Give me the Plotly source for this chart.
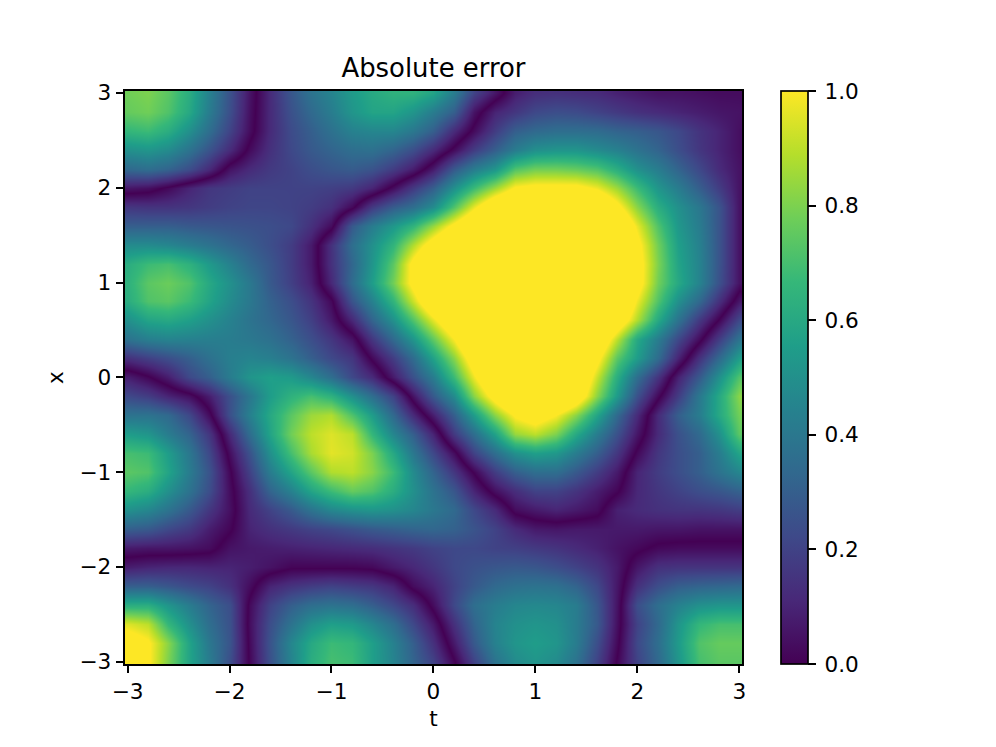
import plotly.graph_objects as go
from plotly.colors import sequential

t_values = [-3.0, -2.8, -2.6, -2.4, -2.2, -2.0, -1.8, -1.6, -1.4, -1.2, -1.0, -0.8, -0.6, -0.4, -0.2, 0.0,
            0.2, 0.4, 0.6, 0.8, 1.0, 1.2, 1.4, 1.6, 1.8, 2.0, 2.2, 2.4, 2.6, 2.8, 3.0]
x_values = [3.0, 2.8, 2.6, 2.4, 2.2, 2.0, 1.8, 1.6, 1.4, 1.2, 1.0, 0.8, 0.6, 0.4, 0.2, 0.0,
            -0.2, -0.4, -0.6, -0.8, -1.0, -1.2, -1.4, -1.6, -1.8, -2.0, -2.2, -2.4, -2.6, -2.8, -3.0]

# Error, signed by the side of each dark zero-valley it lies on;
# the colour shows its magnitude. Values over 1 sit in the saturated yellow area.
signed_error = [
    [-.78,-.80,-.74,-.62,-.44,-.25,-.05,.12,.27,.38,.45,.54,.60,.64,.64,.58,.42,.20,.06,-.08,-.13,-.14,-.13,-.12,-.09,-.07,-.05,-.05,-.04,-.03,-.03],
    [-.76,-.78,-.72,-.60,-.42,-.24,-.04,.12,.25,.34,.42,.52,.58,.58,.52,.42,.30,.05,-.10,-.16,-.22,-.24,-.23,-.20,-.17,-.14,-.12,-.10,-.08,-.06,-.05],
    [-.66,-.68,-.62,-.50,-.36,-.20,-.03,.12,.23,.30,.37,.44,.46,.46,.40,.30,.12,-.03,-.18,-.30,-.34,-.36,-.36,-.35,-.32,-.30,-.27,-.22,-.15,-.10,-.04],
    [-.50,-.52,-.48,-.38,-.26,-.12,.03,.14,.22,.28,.32,.36,.37,.32,.24,.12,-.03,-.18,-.30,-.42,-.50,-.52,-.52,-.48,-.44,-.38,-.32,-.24,-.16,-.10,-.04],
    [-.34,-.36,-.32,-.24,-.12,.05,.12,.17,.20,.24,.27,.29,.26,.18,.08,-.07,-.28,-.42,-.52,-.72,-.78,-.78,-.76,-.72,-.62,-.50,-.42,-.32,-.22,-.12,-.05],
    [-.06,-.04,.02,.10,.16,.18,.20,.20,.20,.20,.19,.17,.10,-.03,-.17,-.30,-.50,-.68,-.85,-1.02,-1.05,-1.05,-1.05,-.98,-.85,-.68,-.52,-.42,-.30,-.18,-.05],
    [.16,.15,.15,.16,.18,.20,.21,.21,.20,.18,.14,.02,-.17,-.29,-.36,-.48,-.72,-.97,-1.2,-1.3,-1.3,-1.3,-1.3,-1.25,-1.05,-.82,-.62,-.50,-.40,-.26,-.05],
    [.30,.30,.30,.28,.27,.26,.25,.24,.22,.14,.03,-.28,-.42,-.53,-.65,-.84,-1.05,-1.25,-1.4,-1.4,-1.4,-1.4,-1.4,-1.4,-1.25,-.97,-.72,-.53,-.42,-.26,-.05],
    [.48,.48,.46,.42,.38,.33,.29,.24,.18,.07,-.14,-.36,-.50,-.65,-.88,-1.1,-1.3,-1.5,-1.5,-1.5,-1.5,-1.5,-1.5,-1.5,-1.3,-1.05,-.78,-.56,-.44,-.26,-.05],
    [.62,.68,.70,.64,.54,.44,.34,.27,.18,.07,-.14,-.33,-.52,-.74,-1.05,-1.3,-1.5,-1.6,-1.6,-1.6,-1.6,-1.6,-1.6,-1.6,-1.35,-1.08,-.80,-.58,-.45,-.26,-.05],
    [.64,.74,.77,.72,.60,.50,.40,.28,.19,.09,-.11,-.35,-.55,-.78,-1.05,-1.3,-1.5,-1.6,-1.6,-1.6,-1.6,-1.6,-1.6,-1.6,-1.35,-1.08,-.78,-.60,-.45,-.25,-.05],
    [.62,.72,.74,.68,.58,.48,.40,.31,.24,.15,.02,-.26,-.44,-.65,-.92,-1.2,-1.4,-1.6,-1.6,-1.6,-1.6,-1.6,-1.6,-1.5,-1.3,-.98,-.72,-.50,-.34,-.14,.06],
    [.50,.58,.60,.56,.50,.44,.38,.33,.27,.19,.07,-.11,-.32,-.50,-.72,-.96,-1.2,-1.4,-1.5,-1.6,-1.6,-1.6,-1.5,-1.4,-1.15,-.88,-.60,-.38,-.17,.01,.22],
    [.38,.43,.45,.44,.43,.42,.40,.37,.31,.24,.16,.05,-.16,-.34,-.52,-.75,-1.0,-1.3,-1.5,-1.6,-1.6,-1.6,-1.4,-1.2,-.90,-.60,-.42,-.22,-.03,.18,.38],
    [.14,.19,.24,.30,.37,.43,.45,.43,.38,.30,.22,.16,-.02,-.18,-.35,-.57,-.82,-1.12,-1.4,-1.5,-1.5,-1.5,-1.3,-1.05,-.74,-.55,-.35,-.10,.14,.34,.55],
    [-.08,-.01,.08,.22,.30,.42,.52,.56,.54,.46,.36,.22,.12,-.07,-.25,-.42,-.68,-.98,-1.25,-1.4,-1.4,-1.4,-1.25,-.92,-.62,-.36,-.15,.09,.28,.50,.72],
    [-.22,-.18,-.10,-.04,.08,.25,.40,.55,.64,.70,.64,.50,.36,.20,-.05,-.28,-.48,-.82,-1.08,-1.3,-1.4,-1.35,-1.15,-.82,-.54,-.25,-.02,.18,.40,.60,.82],
    [-.38,-.38,-.34,-.22,-.03,.25,.44,.60,.74,.85,.88,.72,.55,.34,.12,-.08,-.30,-.55,-.82,-1.02,-1.1,-1.0,-.82,-.58,-.34,-.12,.12,.30,.42,.60,.78],
    [-.55,-.52,-.42,-.32,-.16,.12,.36,.58,.78,.90,.95,.90,.66,.46,.30,.10,-.17,-.36,-.57,-.84,-.90,-.80,-.60,-.42,-.25,-.06,.12,.25,.34,.50,.74],
    [-.70,-.68,-.55,-.40,-.22,.04,.26,.50,.70,.87,.96,.93,.80,.60,.40,.22,.03,-.20,-.36,-.50,-.56,-.53,-.42,-.30,-.16,.02,.16,.24,.30,.42,.58],
    [-.74,-.72,-.58,-.42,-.26,-.01,.20,.42,.58,.74,.88,.90,.82,.68,.48,.32,.16,-.01,-.18,-.30,-.36,-.36,-.28,-.18,-.07,.10,.18,.24,.30,.38,.46],
    [-.66,-.62,-.50,-.38,-.24,-.03,.14,.32,.44,.58,.68,.76,.72,.62,.50,.38,.27,.10,-.04,-.13,-.20,-.20,-.15,-.08,-.01,.11,.16,.20,.24,.27,.31],
    [-.50,-.46,-.38,-.28,-.16,-.04,.12,.20,.28,.38,.46,.50,.52,.50,.46,.40,.34,.22,.12,-.03,-.07,-.10,-.07,-.03,.09,.12,.14,.15,.15,.16,.18],
    [-.30,-.28,-.22,-.17,-.08,-.01,.10,.14,.17,.20,.22,.25,.28,.30,.32,.33,.31,.26,.20,.12,.07,.06,.07,.07,.07,.07,.06,.06,.05,.05,.05],
    [-.07,-.06,-.06,-.05,-.03,.05,.07,.08,.09,.10,.11,.12,.13,.15,.17,.20,.22,.22,.20,.19,.17,.15,.12,.09,.05,.02,-.02,-.03,-.03,-.03,-.03],
    [.08,.10,.11,.11,.10,.10,.08,.05,.01,.01,.01,.01,.02,.07,.11,.16,.22,.25,.27,.28,.27,.24,.20,.15,.07,-.06,-.14,-.15,-.15,-.15,-.15],
    [.30,.30,.27,.23,.20,.14,.03,-.10,-.15,-.18,-.20,-.18,-.16,-.10,.03,.10,.20,.28,.34,.37,.38,.37,.32,.22,.06,-.14,-.24,-.30,-.32,-.33,-.34],
    [.62,.62,.52,.42,.32,.24,-.03,-.20,-.30,-.36,-.38,-.36,-.30,-.22,-.13,.03,.22,.36,.42,.46,.47,.46,.42,.27,.05,-.24,-.36,-.44,-.50,-.52,-.52],
    [.95,.90,.66,.50,.36,.25,-.04,-.24,-.38,-.50,-.56,-.54,-.46,-.36,-.22,-.07,.14,.32,.45,.50,.52,.50,.42,.28,.04,-.20,-.34,-.52,-.66,-.70,-.70],
    [1.1,1.02,.82,.58,.40,.26,-.03,-.26,-.46,-.60,-.68,-.66,-.56,-.44,-.30,-.14,.07,.28,.44,.52,.55,.52,.42,.24,.02,-.22,-.36,-.54,-.72,-.76,-.76],
    [1.12,1.02,.80,.58,.42,.24,-.02,-.25,-.45,-.62,-.70,-.68,-.56,-.45,-.32,-.20,-.01,.20,.38,.48,.52,.48,.38,.20,-.01,-.20,-.34,-.52,-.70,-.74,-.74],
]

t_ticks = [-3, -2, -1, 0, 1, 2, 3]
x_ticks = [-3, -2, -1, 0, 1, 2, 3]
colorbar_ticks = [0, 0.2, 0.4, 0.6, 0.8, 1.0]
colorbar_labels = ["\u20090.0", "\u20090.2", "\u20090.4", "\u20090.6", "\u20090.8", "\u20091.0"]

# The page body adds an 8 px margin around the figure.
OFF = 8
W, H = 996 - 2 * OFF, 747 - 2 * OFF
L, R, T, B = 125 - OFF, 742 - OFF, 91 - OFF, 666 - OFF
FONT = "DejaVu Sans"
TICK_SIZE = 21.6
TITLE_SIZE = 25.9
LINE = 1.7
TICK_LEN = 7.5

viridis = sequential.Viridis
n = len(viridis) - 1
mirrored = [[0.5 - 0.5 * i / n, viridis[i]] for i in range(n, 0, -1)] + \
           [[0.5 + 0.5 * i / n, viridis[i]] for i in range(0, n + 1)]

magnitude = [[min(abs(v), 1) for v in row] for row in signed_error]

fig = go.Figure()
# Plain magnitude layer: carries the 0..1 colour bar.
fig.add_trace(go.Heatmap(
    x=t_values, y=x_values, z=magnitude,
    zmin=0, zmax=1, zsmooth="best", colorscale="Viridis", hoverinfo="skip",
    colorbar=dict(
        x=(781 - OFF) / W, xanchor="left", xref="container", y=0.5, yanchor="middle",
        thickness=27, thicknessmode="pixels", len=1, lenmode="fraction", xpad=0, ypad=0,
        outlinecolor="black", outlinewidth=LINE,
        tickmode="array", tickvals=colorbar_ticks, ticktext=colorbar_labels,
        ticks="outside", ticklen=TICK_LEN, tickwidth=LINE, tickcolor="black",
        tickfont=dict(family=FONT, size=TICK_SIZE, color="black"),
    ),
))
# Signed layer with a mirrored colour scale, so valleys stay sharp between grid nodes.
fig.add_trace(go.Heatmap(
    x=t_values, y=x_values, z=signed_error,
    zmin=-1, zmax=1, zsmooth="best", colorscale=mirrored, showscale=False, hoverinfo="skip",
))

axis_style = dict(
    showgrid=False, zeroline=False, showline=True, linecolor="black", linewidth=LINE,
    mirror=True, ticks="outside", ticklen=TICK_LEN, tickwidth=LINE, tickcolor="black",
    tickmode="array", tickfont=dict(family=FONT, size=TICK_SIZE, color="black"),
)

fig.update_layout(
    width=W, height=H, autosize=False,
    paper_bgcolor="white", plot_bgcolor="white",
    margin=dict(l=L, r=W - R, t=T, b=H - B, pad=0),
    font=dict(family=FONT, size=TICK_SIZE, color="black"),
    title=dict(text="Absolute error", x=0.5, xref="paper", xanchor="center",
               y=1 - (68 - OFF) / H, yref="container", yanchor="middle",
               font=dict(family=FONT, size=TITLE_SIZE, color="black")),
    xaxis=dict(axis_style, range=[-3.025, 3.026], tickvals=t_ticks,
               title=dict(text="t", standoff=8, font=dict(family=FONT, size=TICK_SIZE, color="black"))),
    yaxis=dict(axis_style, range=[-3.024, 3.02], tickvals=x_ticks,
               title=dict(text="x", standoff=10, font=dict(family=FONT, size=TICK_SIZE, color="black"))),
)

fig.write_html("out.html")
